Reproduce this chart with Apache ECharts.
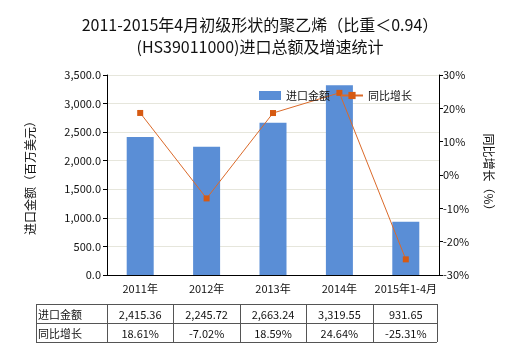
<!DOCTYPE html>
<html>
<head>
<meta charset="utf-8">
<script src="https://cdn.jsdelivr.net/npm/echarts@6/dist/echarts.min.js"></script>
<style>
html,body{margin:0;padding:0;background:#fff;}
#chart{width:520px;height:350px;}
</style>
</head>
<body>
<div id="chart"></div>
<script>
// Categories and series values
var categories = ['2011年', '2012年', '2013年', '2014年', '2015年1-4月'];
var importValues = [2415.36, 2245.72, 2663.24, 3319.55, 931.65];
var growthValues = [18.61, -7.02, 18.59, 24.64, -25.31];
var valueLabels = ['2,415.36', '2,245.72', '2,663.24', '3,319.55', '931.65'];
var growthLabels = ['18.61%', '-7.02%', '18.59%', '24.64%', '-25.31%'];
var seriesNames = ['进口金额', '同比增长'];

var FONT = '"Noto Sans CJK SC", "Noto Sans", sans-serif';
var gridLeft = 107, gridRight = 439, gridTop = 75, gridBottom = 275;

var chart = echarts.init(document.getElementById('chart'), null, {renderer: 'canvas'});

// Data table below the plot
function buildTable() {
  var els = [];
  var tLeft = 36, tTop = 304, rowH = 19;
  var colW = (gridRight - gridLeft) / categories.length;
  var tRight = gridRight - 2;
  var lineStyle = {stroke: '#555', lineWidth: 1};
  [tTop, tTop + rowH, tTop + 2 * rowH].forEach(function (y) {
    els.push({type: 'line', shape: {x1: tLeft, y1: y + 0.5, x2: tRight, y2: y + 0.5}, style: lineStyle, silent: true});
  });
  var xs = [tLeft, gridLeft];
  for (var i = 1; i < categories.length; i++) xs.push(Math.round(gridLeft + colW * i));
  xs.push(tRight);
  xs.forEach(function (x) {
    els.push({type: 'line', shape: {x1: x + 0.5, y1: tTop, x2: x + 0.5, y2: tTop + 2 * rowH}, style: lineStyle, silent: true});
  });
  var rows = [valueLabels, growthLabels];
  rows.forEach(function (row, r) {
    var cy = tTop + rowH * r + rowH / 2 + 1;
    els.push({type: 'text', style: {x: tLeft + 2, y: cy, text: seriesNames[r], font: '11px ' + FONT, fill: '#111', textAlign: 'left', textVerticalAlign: 'middle'}, silent: true});
    row.forEach(function (t, c) {
      var cx = gridLeft + colW * c + colW / 2;
      els.push({type: 'text', style: {x: cx, y: cy, text: t, font: '11px ' + FONT, fill: '#111', textAlign: 'center', textVerticalAlign: 'middle'}, silent: true});
    });
  });
  return els;
}

var option = {
  animation: false,
  backgroundColor: '#fff',
  title: {
    text: '2011-2015年4月初级形状的聚乙烯（比重＜0.94）\n(HS39011000)进口总额及增速统计',
    left: 'center',
    top: 9,
    textStyle: {fontFamily: FONT, fontSize: 16, fontWeight: 'normal', color: '#111', lineHeight: 22}
  },
  legend: {
    top: 85,
    left: 254,
    itemWidth: 22,
    itemHeight: 9,
    itemGap: 10,
    textStyle: {fontFamily: FONT, fontSize: 11, color: '#111'},
    data: [
      {name: seriesNames[0], icon: 'rect'},
      {name: seriesNames[1]}
    ]
  },
  grid: {left: gridLeft, right: 520 - gridRight, top: gridTop, bottom: 350 - gridBottom, containLabel: false},
  xAxis: {
    type: 'category',
    data: categories,
    axisLine: {lineStyle: {color: '#000'}},
    axisTick: {alignWithLabel: true, length: 4, lineStyle: {color: '#000'}},
    axisLabel: {fontFamily: FONT, fontSize: 11, color: '#111', margin: 8, interval: 0},
    splitLine: {show: false}
  },
  yAxis: [
    {
      type: 'value',
      min: 0, max: 3500, interval: 500,
      name: '进口金额（百万美元）',
      nameLocation: 'middle',
      nameGap: 71,
      nameRotate: 90,
      nameTextStyle: {fontFamily: FONT, fontSize: 12, color: '#111'},
      axisLine: {show: true, lineStyle: {color: '#000'}},
      axisTick: {show: true, length: 4, lineStyle: {color: '#000'}},
      axisLabel: {fontFamily: FONT, fontSize: 11, color: '#111', margin: 6,
        formatter: function (v) { return v.toLocaleString('en-US', {minimumFractionDigits: 1, maximumFractionDigits: 1}); }},
      splitLine: {show: true, lineStyle: {color: '#e6e6dc'}}
    },
    {
      type: 'value',
      min: -30, max: 30, interval: 10,
      name: '同比增长（%）',
      nameLocation: 'middle',
      nameGap: 44,
      nameRotate: -90,
      nameTextStyle: {fontFamily: FONT, fontSize: 12, color: '#111'},
      axisLine: {show: true, lineStyle: {color: '#000'}},
      axisTick: {show: true, length: 4, lineStyle: {color: '#000'}},
      axisLabel: {fontFamily: FONT, fontSize: 11, color: '#111', margin: 4, formatter: '{value}%'},
      splitLine: {show: false}
    }
  ],
  series: [
    {
      name: seriesNames[0],
      type: 'bar',
      data: importValues,
      barWidth: 27,
      itemStyle: {color: '#5a8ed6'},
      yAxisIndex: 0
    },
    {
      name: seriesNames[1],
      type: 'line',
      data: growthValues,
      yAxisIndex: 1,
      symbol: 'rect',
      symbolSize: 6,
      lineStyle: {color: '#db6a2a', width: 1},
      itemStyle: {color: '#d65a12'}
    }
  ],
  graphic: buildTable()
};

chart.setOption(option);
</script>
</body>
</html>
